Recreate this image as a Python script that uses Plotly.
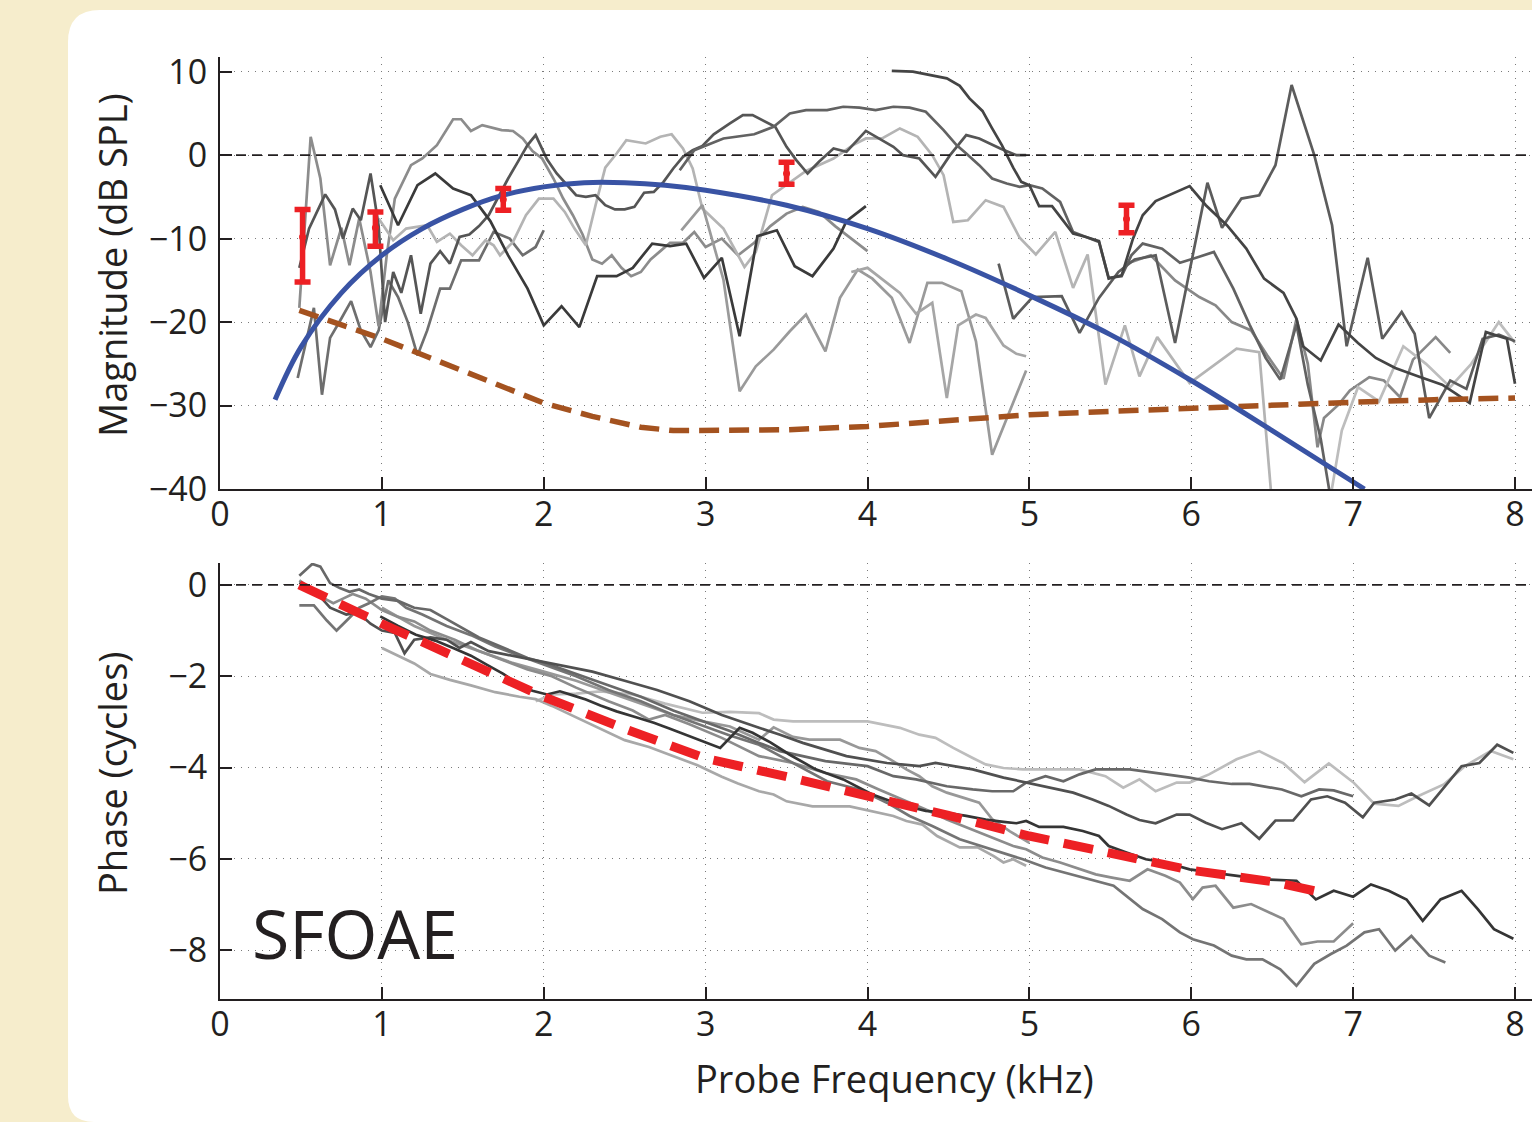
import plotly.graph_objects as go

# ---------------- data ----------------
freq_ticks = [0, 1, 2, 3, 4, 5, 6, 7, 8]
mag_ticks = [-40, -30, -20, -10, 0, 10]
phase_ticks = [-8, -6, -4, -2, 0]

# model magnitude (blue) curve
model_f = [0.34, 0.5, 0.75, 1.0, 1.25, 1.5, 1.75, 2.0, 2.25, 2.5, 2.75, 3.0, 3.5, 4.0, 4.5, 5.0, 5.5, 6.0, 6.5, 7.07]
model_db = [-29.3, -23, -16.5, -12, -8.8, -6.5, -4.8, -3.8, -3.3, -3.3, -3.6, -4.2, -6.0, -8.8, -12.5, -16.8, -21.5, -27, -33, -40]

# noise floor (brown dashed)
floor_f = [0.49, 0.75, 1.0, 1.3, 1.6, 2.0, 2.3, 2.6, 2.8, 3.0, 3.5, 4.0, 4.5, 5.0, 5.5, 6.0, 6.5, 7.0, 7.5, 8.0]
floor_db = [-18.6, -20.3, -22.0, -24.3, -26.6, -29.7, -31.3, -32.6, -33.0, -33.0, -32.9, -32.5, -31.8, -31.1, -30.7, -30.3, -30.0, -29.6, -29.3, -29.1]

# group means with error bars (red)
err_f = [0.51, 0.96, 1.75, 3.5, 5.6]
err_db = [-9.8, -8.7, -5.3, -2.2, -7.65]
err_up = [3.3, 1.9, 1.3, 1.35, 1.65]
err_dn = [5.4, 2.2, 1.3, 1.3, 1.65]

# individual magnitude curves (freq kHz, dB SPL)
mag_a = [(0.49, -18.3), (0.56, 2.2), (0.62, -2.8), (0.68, -13.2), (0.75, -8.7), (0.80, -13.2), (0.86, -7.6),
         (0.93, -14), (0.98, -20.5), (1.03, -12), (1.08, -5.2), (1.13, -3.2), (1.18, -1.2), (1.25, -0.4),
         (1.34, 1.2), (1.44, 4.3), (1.49, 4.3), (1.55, 2.9), (1.62, 3.6), (1.74, 3.0), (1.81, 2.9), (1.87, 2.0),
         (1.93, 0.5), (1.99, -0.4), (2.06, -2.8), (2.12, -5.2), (2.18, -7.2), (2.24, -9.5), (2.30, -12.5),
         (2.36, -13), (2.42, -12), (2.48, -13.5), (2.54, -14.5), (2.60, -14), (2.66, -12.5), (2.72, -11.5),
         (2.78, -10.5), (2.86, -10.5), (2.93, -9.2), (3.0, -11), (3.1, -10), (3.2, -12), (3.3, -10.5),
         (3.4, -8.5), (3.5, -7), (3.6, -6.2), (3.7, -6.8), (3.8, -8.5), (3.9, -10), (4.0, -11.5)]
mag_b = [(0.99, -3.6), (1.10, -8.4), (1.22, -3.6), (1.33, -2.2), (1.44, -4.0), (1.55, -4.8), (1.67, -7.9),
         (1.78, -12.0), (1.90, -16.0), (2.00, -20.4), (2.11, -18.1), (2.22, -20.6), (2.33, -14.5), (2.45, -14.5),
         (2.55, -13.5), (2.67, -10.6), (2.78, -10.9), (2.88, -10.6), (2.99, -14.7), (3.10, -12.3), (3.21, -21.7),
         (3.32, -9.7), (3.44, -9.0), (3.55, -13.3), (3.66, -14.5), (3.79, -11.2), (3.87, -7.9), (3.99, -6.1)]
mag_c = [(0.49, -13.5), (0.55, -8.8), (0.65, -4.7), (0.71, -6.5), (0.76, -10), (0.82, -6.4), (0.87, -7.8),
         (0.93, -2.2), (0.98, -8.5), (1.02, -20), (1.07, -14), (1.12, -16.5), (1.18, -12), (1.24, -19),
         (1.30, -13), (1.36, -11.5), (1.42, -13), (1.48, -9.8), (1.54, -9.5), (1.60, -8.5), (1.66, -7.2),
         (1.72, -5), (1.78, -2.8), (1.84, -0.8), (1.90, 1.2), (1.95, 2.4), (2.02, -0.5), (2.08, -2.2),
         (2.14, -3.5), (2.20, -4.8), (2.26, -5), (2.32, -4.8), (2.38, -6), (2.44, -6.5), (2.50, -6.5),
         (2.56, -6.2), (2.62, -4.5), (2.68, -4.4), (2.74, -3.2), (2.80, -1.6), (2.86, -0.2), (2.92, 0.6),
         (2.98, 1.1), (3.05, 2.5), (3.15, 3.8), (3.23, 4.8), (3.29, 4.8), (3.43, 3.4), (3.50, 1.0), (3.56, -0.6),
         (3.63, -2.2), (3.70, -0.8), (3.79, 0.8), (3.87, 0.4), (3.99, 2.9), (4.07, 2.0), (4.16, 1.0), (4.22, 0),
         (4.32, -0.4), (4.42, -2.6), (4.51, 0), (4.61, 2.4), (4.69, 2.0), (4.82, 0.8), (4.92, 0), (4.98, 0)]
mag_d = [(2.84, -1.8), (2.93, 0.6), (3.11, 2.0), (3.30, 2.5), (3.42, 3.4), (3.52, 5.0), (3.62, 5.4), (3.75, 5.4),
         (3.85, 5.8), (3.95, 5.7), (4.05, 5.4), (4.16, 5.8), (4.26, 5.7), (4.36, 5.2), (4.47, 3.0), (4.55, 1.2),
         (4.61, 0.2), (4.69, -1.2), (4.77, -2.8), (4.86, -3.4), (4.94, -3.8), (5.0, -3.6), (5.08, -4.0),
         (5.19, -5.6), (5.27, -9.2), (5.37, -10.0), (5.43, -10.4), (5.49, -14.7), (5.57, -14.5), (5.63, -12),
         (5.7, -10.6), (5.82, -11.2), (5.93, -12.9), (6.03, -12.3), (6.14, -11.6), (6.26, -16), (6.36, -20.3),
         (6.46, -24.3), (6.55, -26.9), (6.65, -20.3), (6.72, -27.5), (6.8, -34), (6.86, -41)]
mag_e = [(4.15, 10.1), (4.28, 10), (4.49, 9.2), (4.57, 8.3), (4.63, 6.8), (4.71, 5.3), (4.77, 3.2), (4.83, 1.2),
         (4.9, -1.5), (4.95, -3.2), (5.0, -3.6), (5.06, -6.1), (5.14, -6.1), (5.27, -9.4), (5.35, -9.8),
         (5.43, -10.3), (5.49, -14.8), (5.57, -14.4), (5.64, -10), (5.7, -7.2), (5.78, -5.5), (5.88, -4.6),
         (5.99, -3.7), (6.09, -6), (6.22, -8.4), (6.34, -11.2), (6.45, -14.8), (6.57, -16.5), (6.65, -19.6),
         (6.69, -22.9), (6.8, -24.6), (6.91, -20.3), (7.03, -22.5), (7.14, -24.3), (7.26, -25.5), (7.4, -26.5),
         (7.55, -27.5), (7.63, -28.5), (7.72, -29.7), (7.82, -21.2), (7.95, -22), (8.0, -27.4)]
mag_f = [(4.81, -13), (4.9, -19.6), (5.02, -17), (5.2, -16.9), (5.31, -21.3), (5.43, -17.1), (5.55, -14),
         (5.65, -12.5), (5.78, -12), (5.9, -22.5), (6.1, -3.3), (6.19, -8.7), (6.31, -5.2), (6.42, -4.8),
         (6.52, -1.2), (6.62, 8.4), (6.76, 0), (6.87, -8.4), (6.96, -22.9), (7.09, -12.3), (7.18, -22),
         (7.3, -18.8), (7.38, -21.4), (7.47, -31.5), (7.6, -27), (7.7, -28), (7.8, -22), (7.9, -21.5), (8.0, -22.3)]
mag_g = [(0.98, -7.6), (1.07, -10.2), (1.15, -8.8), (1.28, -8.4), (1.34, -10.4), (1.42, -9.4), (1.49, -10.8),
         (1.56, -12), (1.64, -10.2), (1.69, -10.8), (1.73, -12), (1.81, -10.4), (1.89, -7.2), (1.97, -5.2),
         (2.06, -5.2), (2.13, -6.8), (2.19, -8.8), (2.26, -10.8), (2.32, -6), (2.38, -1.5), (2.45, 0.2),
         (2.51, 1.8), (2.63, 1.4), (2.72, 2.2), (2.79, 2.5), (2.86, 0.8), (2.92, -1.6), (2.98, -6.4),
         (3.11, -8.8), (3.24, -13.4), (3.31, -11.6), (3.41, -4.8), (3.62, -1.9), (3.79, -0.4), (3.91, 1.2),
         (3.99, 2.0), (4.09, 2.0), (4.2, 3.2), (4.31, 2.2), (4.4, 0), (4.47, -2.4), (4.53, -8), (4.62, -7.8),
         (4.73, -5.4), (4.84, -6.2), (4.94, -9.9), (5.04, -11.9), (5.16, -9.2), (5.27, -15.9), (5.36, -11.9),
         (5.47, -27.5), (5.59, -20.4), (5.68, -26.5), (5.79, -21.8), (5.99, -27.3), (6.09, -25.9),
         (6.17, -24.7), (6.28, -23.2), (6.42, -23.6), (6.5, -42)]
mag_h = [(2.85, -9), (2.98, -6), (3.11, -14.9), (3.21, -28.3), (3.31, -25.3), (3.42, -23.3), (3.52, -21.1),
         (3.62, -19.1), (3.74, -23.5), (3.83, -17.1), (3.94, -13.7), (4.03, -14.8), (4.15, -17.1), (4.26, -22.5),
         (4.37, -15.3), (4.46, -15.3), (4.58, -16.3), (4.67, -22.3), (4.77, -35.9), (4.98, -25.8)]
mag_i = [(3.9, -14), (4.0, -13.5), (4.1, -15), (4.2, -16.5), (4.3, -19), (4.4, -17.7), (4.49, -29.1),
         (4.56, -20.4), (4.67, -19.1), (4.73, -19.5), (4.84, -22.8), (4.92, -23.8), (4.98, -24.1)]
mag_k = [(5.6, -13), (5.75, -12), (5.9, -15), (6.05, -17), (6.15, -18), (6.25, -20), (6.37, -21), (6.47, -24),
         (6.57, -26.8), (6.65, -19.6), (6.72, -25), (6.78, -35), (6.82, -31.5), (6.91, -29.9), (6.98, -28.2),
         (7.1, -26.6), (7.19, -27), (7.29, -29), (7.37, -24.5), (7.51, -21.8), (7.6, -23.7)]
mag_l = [(6.86, -41), (6.93, -33), (7.03, -27.8), (7.16, -29.5), (7.31, -22.9), (7.45, -25), (7.6, -27.8),
         (7.73, -25), (7.9, -20), (8.0, -22.5)]
mag_m = [(0.48, -26.7), (0.58, -18.3), (0.63, -28.7), (0.68, -21.9), (0.74, -19.9), (0.81, -17.5), (0.87, -21),
         (0.93, -23), (0.98, -21), (1.04, -15), (1.1, -17), (1.16, -20), (1.22, -24), (1.28, -21), (1.36, -16),
         (1.42, -16), (1.49, -12.6), (1.6, -12.6), (1.69, -9.2), (1.79, -10), (1.87, -12), (1.95, -11), (2.0, -9)]

mag_curves = [
    (mag_m, "#6e6e6e"), (mag_a, "#8c8c8c"), (mag_g, "#b4b4b4"), (mag_h, "#9a9a9a"), (mag_i, "#a6a6a6"),
    (mag_k, "#888888"), (mag_l, "#bdbdbd"), (mag_c, "#555555"), (mag_d, "#626262"), (mag_f, "#5c5c5c"),
    (mag_b, "#3a3a3a"), (mag_e, "#444444"),
]

# model phase (red dashed)
phase_model_f = [0.49, 0.75, 1.0, 1.5, 2.0, 2.5, 3.0, 3.5, 4.0, 4.5, 5.0, 5.5, 6.0, 6.5, 6.76]
phase_model = [0, -0.45, -0.85, -1.65, -2.45, -3.15, -3.8, -4.2, -4.6, -5.05, -5.5, -5.9, -6.25, -6.5, -6.7]

# individual phase curves (freq kHz, cycles)
ph_1 = [(1.95, -2.55), (2.05, -2.4), (2.2, -2.38), (2.35, -2.33), (2.55, -2.4), (2.75, -2.6), (2.98, -2.8),
        (3.15, -2.78), (3.33, -2.81), (3.42, -2.95), (3.54, -2.99), (4.0, -2.99), (4.2, -3.13), (4.32, -3.28),
        (4.42, -3.35), (4.53, -3.57), (4.65, -3.79), (4.73, -3.93), (4.84, -4.01), (4.96, -4.04), (5.31, -4.04),
        (5.47, -4.19), (5.58, -4.44), (5.68, -4.26), (5.78, -4.52), (5.91, -4.33), (5.99, -4.33), (6.11, -4.15),
        (6.28, -3.82), (6.42, -3.64), (6.57, -3.91), (6.7, -4.32), (6.85, -3.91), (7.0, -4.32), (7.13, -4.79),
        (7.28, -4.84), (7.4, -4.63), (7.56, -4.37), (7.69, -3.97), (7.85, -3.64), (7.99, -3.82)]
ph_2 = [(0.99, -0.69), (1.1, -0.9), (1.21, -1.09), (1.33, -1.22), (1.44, -1.38), (1.55, -1.55), (1.65, -1.75),
        (1.75, -1.95), (1.85, -2.19), (1.93, -2.32), (2.02, -2.4), (2.1, -2.33), (2.18, -2.42), (2.26, -2.51),
        (2.35, -2.64), (2.45, -2.77), (2.57, -2.9), (2.68, -3.02), (2.78, -3.15), (2.88, -3.28), (2.98, -3.42),
        (3.09, -3.57), (3.21, -3.13), (3.29, -3.24), (3.4, -3.45), (3.52, -3.72), (3.68, -4.04), (3.85, -4.26),
        (4.03, -4.59), (4.2, -4.81), (4.36, -4.95), (4.49, -4.99), (4.61, -5.06), (4.73, -5.14), (4.84, -5.19),
        (4.92, -5.22), (4.98, -5.17), (5.06, -5.3), (5.21, -5.3), (5.33, -5.39), (5.43, -5.5), (5.49, -5.72),
        (5.6, -5.86), (5.72, -6.01), (5.84, -6.08), (5.99, -6.23), (6.13, -6.3), (6.28, -6.37), (6.45, -6.45),
        (6.65, -6.48), (6.77, -6.89), (6.88, -6.7), (7.0, -6.83), (7.11, -6.56), (7.22, -6.7), (7.33, -6.89),
        (7.43, -7.36), (7.54, -6.89), (7.67, -6.7), (7.77, -7.1), (7.87, -7.54), (7.99, -7.75)]
ph_3 = [(0.49, 0.05), (0.58, -0.1), (0.68, -0.5), (0.78, -0.65), (0.85, -0.6), (0.93, -0.85), (1.0, -1.0),
        (1.08, -1.05), (1.14, -1.5), (1.2, -1.2), (1.3, -1.15), (1.4, -1.2), (1.48, -1.38), (1.55, -1.25),
        (1.66, -1.45), (1.8, -1.55), (1.95, -1.65), (2.1, -1.75), (2.3, -1.9), (2.5, -2.1), (2.7, -2.3),
        (2.9, -2.55), (3.1, -2.85), (3.33, -3.13), (3.46, -3.28), (3.6, -3.46), (3.87, -3.75), (4.12, -3.9),
        (4.32, -3.97), (4.42, -3.9), (4.65, -4.04), (4.84, -4.22), (4.98, -4.33), (5.12, -4.44), (5.27, -4.55),
        (5.39, -4.7), (5.49, -4.84), (5.6, -5.03), (5.68, -5.15), (5.78, -5.22), (5.91, -5.03), (5.99, -5.03),
        (6.09, -5.21), (6.19, -5.35), (6.31, -5.22), (6.42, -5.56), (6.52, -5.16), (6.63, -5.16), (6.74, -4.7),
        (6.84, -4.63), (6.95, -4.77), (7.06, -5.09), (7.13, -4.77), (7.26, -4.7), (7.36, -4.57), (7.47, -4.83),
        (7.56, -4.44), (7.67, -3.97), (7.78, -3.9), (7.89, -3.5), (7.99, -3.68)]
ph_4 = [(0.49, 0.2), (0.57, 0.46), (0.62, 0.4), (0.68, 0.04), (0.74, -0.07), (0.8, -0.15), (0.86, -0.1),
        (0.92, -0.2), (1.0, -0.3), (1.1, -0.35), (1.2, -0.5), (1.3, -0.55), (1.4, -0.75), (1.5, -0.95),
        (1.6, -1.15), (1.7, -1.3), (1.8, -1.45), (1.9, -1.6), (2.0, -1.7), (2.2, -1.95), (2.4, -2.2),
        (2.6, -2.45), (2.8, -2.75), (3.0, -3.0), (3.15, -3.2), (3.33, -3.46), (3.46, -3.64), (3.6, -3.75),
        (3.74, -3.86), (4.0, -3.97), (4.16, -4.19), (4.3, -4.26), (4.49, -4.41), (4.65, -4.48), (4.77, -4.52),
        (4.9, -4.52), (4.98, -4.33), (5.1, -4.19), (5.21, -4.3), (5.31, -4.15), (5.41, -4.04), (5.62, -4.04),
        (5.8, -4.12), (5.99, -4.22), (6.11, -4.3), (6.25, -4.36), (6.36, -4.36), (6.56, -4.48), (6.68, -4.63),
        (6.79, -4.48), (6.88, -4.5), (7.0, -4.63)]
ph_5 = [(0.49, -0.45), (0.58, -0.45), (0.66, -0.78), (0.72, -1.0), (0.8, -0.72), (0.86, -0.5), (0.92, -0.4),
        (1.0, -0.25), (1.08, -0.3), (1.15, -0.5), (1.25, -0.65), (1.4, -0.9), (1.55, -1.1), (1.7, -1.35),
        (1.85, -1.55), (2.0, -1.75), (2.2, -2.0), (2.4, -2.3), (2.6, -2.55), (2.8, -2.85), (3.0, -3.1),
        (3.15, -3.3), (3.33, -3.5), (3.5, -3.83), (3.75, -4.3), (3.95, -4.48), (4.12, -4.77), (4.26, -5.06),
        (4.4, -5.28), (4.57, -5.57), (4.77, -5.79), (4.96, -6.01), (5.1, -6.19), (5.29, -6.37), (5.52, -6.59),
        (5.7, -7.1), (5.82, -7.32), (5.93, -7.61), (6.01, -7.76), (6.14, -7.9), (6.25, -8.12), (6.34, -8.2),
        (6.44, -8.2), (6.55, -8.42), (6.65, -8.78), (6.76, -8.3), (6.86, -8.09), (6.96, -7.9), (7.07, -7.61),
        (7.16, -7.54), (7.26, -8.01), (7.36, -7.69), (7.47, -8.12), (7.57, -8.27)]
ph_6 = [(0.49, 0.1), (0.55, -0.05), (0.62, -0.25), (0.7, -0.4), (0.76, -0.3), (0.82, -0.2), (0.9, -0.3),
        (1.0, -0.55), (1.1, -0.7), (1.2, -0.8), (1.3, -1.0), (1.45, -1.2), (1.6, -1.45), (1.75, -1.65),
        (1.9, -1.85), (2.05, -2.0), (2.2, -2.25), (2.4, -2.55), (2.55, -2.75), (2.65, -2.95), (2.75, -2.85),
        (2.9, -3.05), (3.1, -3.35), (3.33, -3.75), (3.54, -3.9), (3.74, -4.12), (3.93, -4.26), (4.07, -4.48),
        (4.22, -4.7), (4.36, -4.92), (4.49, -5.14), (4.59, -5.28), (4.69, -5.43), (4.79, -5.57), (4.9, -5.72),
        (4.98, -5.79), (5.08, -5.97), (5.19, -6.08), (5.31, -6.23), (5.41, -6.34), (5.51, -6.41), (5.62, -6.48),
        (5.73, -6.23), (5.84, -6.37), (5.93, -6.52), (6.01, -6.88), (6.07, -6.63), (6.15, -6.59), (6.26, -7.07),
        (6.37, -6.99), (6.57, -7.32), (6.68, -7.87), (6.78, -7.81), (6.88, -7.81), (7.0, -7.41)]
ph_7 = [(1.0, -1.38), (1.1, -1.55), (1.2, -1.72), (1.3, -1.95), (1.42, -2.08), (1.55, -2.2), (1.7, -2.35),
        (1.85, -2.45), (1.95, -2.5), (2.05, -2.65), (2.2, -2.9), (2.35, -3.15), (2.5, -3.4), (2.65, -3.55),
        (2.8, -3.75), (2.95, -3.95), (3.1, -4.2), (3.2, -4.35), (3.33, -4.52), (3.42, -4.59), (3.5, -4.74),
        (3.66, -4.85), (3.89, -4.85), (4.16, -5.06), (4.24, -5.17), (4.34, -5.25), (4.43, -5.5), (4.57, -5.75),
        (4.68, -5.75), (4.78, -5.94), (4.84, -6.08), (4.9, -6.01), (4.98, -6.15)]
ph_8 = [(1.0, -0.5), (1.2, -0.9), (1.4, -1.2), (1.6, -1.45), (1.8, -1.7), (2.0, -1.9), (2.2, -2.1), (2.4, -2.35),
        (2.6, -2.6), (2.8, -2.85), (3.0, -3.0), (3.15, -3.1), (3.33, -3.39), (3.42, -3.12), (3.54, -3.33),
        (3.64, -3.39), (3.83, -3.39), (3.95, -3.57), (4.05, -3.64), (4.14, -3.82), (4.24, -4.04), (4.32, -4.19),
        (4.4, -4.41), (4.49, -4.55), (4.59, -4.66), (4.69, -4.77), (4.77, -5.13), (4.88, -5.4), (5.0, -5.65)]

phase_curves = [
    (ph_1, "#bdbdbd"), (ph_7, "#a8a8a8"), (ph_8, "#989898"), (ph_6, "#8c8c8c"), (ph_5, "#747474"),
    (ph_4, "#686868"), (ph_3, "#505050"), (ph_2, "#353535"),
]

# ---------------- styling constants ----------------
W, H = 1532, 1122
INK = "#231f20"
FONT = "Open Sans"
X_LEFT_PX = 220
PX_PER_KHZ = 161.875
x_range = [0, (W - X_LEFT_PX) / PX_PER_KHZ]

fig = go.Figure()


def add_curve(pairs, color, width, xa, ya, dash=None, shape="linear"):
    xs = [p[0] for p in pairs]
    ys = [p[1] for p in pairs]
    fig.add_trace(go.Scatter(x=xs, y=ys, mode="lines", xaxis=xa, yaxis=ya,
                             line=dict(color=color, width=width, dash=dash, shape=shape),
                             showlegend=False, hoverinfo="skip"))


for pairs, col in mag_curves:
    add_curve(pairs, col, 2.7, "x", "y")

add_curve(list(zip(floor_f, floor_db)), "#a4521f", 5.5, "x", "y", dash="20px,10px")
add_curve(list(zip(model_f, model_db)), "#3953a4", 5, "x", "y", shape="spline")

fig.add_trace(go.Scatter(
    x=err_f, y=err_db, mode="markers", xaxis="x", yaxis="y",
    marker=dict(color="#ed2024", size=7),
    error_y=dict(type="data", symmetric=False, array=err_up, arrayminus=err_dn,
                 color="#ed2024", thickness=5.5, width=8),
    showlegend=False, hoverinfo="skip"))

for pairs, col in phase_curves:
    add_curve(pairs, col, 2.7, "x2", "y2")

add_curve(list(zip(phase_model_f, phase_model)), "#ed2024", 9, "x2", "y2", dash="30px,15px")


def xaxis_style(anchor):
    return dict(domain=[X_LEFT_PX / W, 1.0], range=x_range, anchor=anchor, tickvals=freq_ticks,
                ticks="inside", ticklen=12, tickwidth=1.5, tickcolor=INK,
                showline=True, linecolor=INK, linewidth=2, automargin=False,
                showgrid=True, gridcolor="#7a7a7a", griddash="1px,6px", gridwidth=1,
                zeroline=False, ticklabelstandoff=-6,
                tickfont=dict(family=FONT, size=34, color=INK))


def yaxis_style(anchor, dom, rng, tv):
    return dict(domain=dom, range=rng, anchor=anchor, tickvals=tv,
                ticks="inside", ticklen=12, tickwidth=1.5, tickcolor=INK,
                showline=True, linecolor=INK, linewidth=2, automargin=False,
                showgrid=True, gridcolor="#7a7a7a", griddash="1px,6px", gridwidth=1,
                zeroline=False, ticklabelstandoff=4,
                tickfont=dict(family=FONT, size=34, color=INK))


top_dom = [1 - 489 / H, 1 - 57 / H]
bot_dom = [1 - 999 / H, 1 - 563 / H]


def px(x, y):
    return f"{x / W:.5f},{1 - y / H:.5f}"


r1, r2, L, T = 32, 26, 68, 10
panel = (f"M {px(L + r1, T)} L {px(W, T)} L {px(W, H)} L {px(L + r2, H)} "
         f"Q {px(L, H)} {px(L, H - r2)} L {px(L, T + r1)} Q {px(L, T)} {px(L + r1, T)} Z")

shapes = [
    dict(type="path", path=panel, xref="paper", yref="paper", fillcolor="white",
         line=dict(width=0), layer="below"),
    dict(type="line", xref="x domain", yref="y", x0=0, x1=1, y0=0, y1=0,
         line=dict(color=INK, width=1.6, dash="10px,6px"), layer="above"),
    dict(type="line", xref="x2 domain", yref="y2", x0=0, x1=1, y0=0, y1=0,
         line=dict(color=INK, width=1.6, dash="10px,6px"), layer="above"),
]

annotations = [
    dict(text="Magnitude (dB SPL)", x=112 / W, y=1 - 265 / H, xref="paper", yref="paper",
         textangle=-90, showarrow=False, font=dict(family=FONT, size=38, color=INK),
         xanchor="center", yanchor="middle"),
    dict(text="Phase (cycles)", x=112 / W, y=1 - 773 / H, xref="paper", yref="paper",
         textangle=-90, showarrow=False, font=dict(family=FONT, size=38, color=INK),
         xanchor="center", yanchor="middle"),
    dict(text="Probe Frequency (kHz)", x=894 / W, y=1 - 1078 / H, xref="paper", yref="paper",
         showarrow=False, font=dict(family=FONT, size=38, color=INK),
         xanchor="center", yanchor="middle"),
    dict(text="SFOAE", x=250 / W, y=1 - 932 / H, xref="paper", yref="paper",
         showarrow=False, font=dict(family=FONT, size=68, color=INK),
         xanchor="left", yanchor="middle"),
]

fig.update_layout(
    width=W, height=H, autosize=False,
    margin=dict(l=0, r=0, t=0, b=0, pad=0, autoexpand=False),
    paper_bgcolor="#f6edcc", plot_bgcolor="rgba(0,0,0,0)",
    xaxis=xaxis_style("y"), yaxis=yaxis_style("x", top_dom, [-40, 11.76], mag_ticks),
    xaxis2=xaxis_style("y2"), yaxis2=yaxis_style("x2", bot_dom, [-9.07, 0.48], phase_ticks),
    shapes=shapes, annotations=annotations, showlegend=False,
)

fig.write_html(
    "out.html",
    config={"responsive": False, "displayModeBar": False},
    post_script="document.body.style.margin='0';document.body.style.padding='0';"
                "document.body.style.overflow='hidden';"
                "document.documentElement.style.overflow='hidden';",
)
